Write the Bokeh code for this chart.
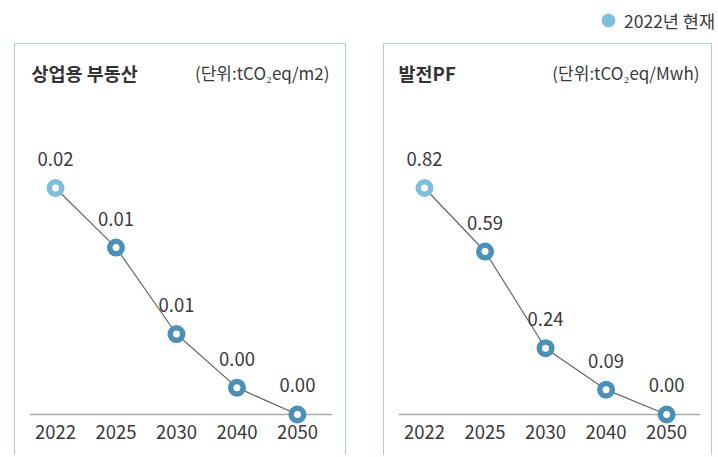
from bokeh.plotting import figure
from bokeh.models import Range1d, FixedTicker, Span, Legend, LegendItem, Spacer, ColumnDataSource
from bokeh.layouts import row, column
from bokeh.embed import file_html
from bokeh.resources import INLINE
from bokeh.core.properties import value

# ---------------- data ----------------
years = ["2022", "2025", "2030", "2040", "2050"]
current_year = "2022"
commercial_values = [0.0152, 0.0112, 0.0054, 0.0018, 0.0]
power_values = [0.82, 0.59, 0.24, 0.09, 0.0]
commercial_title = "상업용 부동산"
commercial_unit = "(단위:tCO₂eq/m2)"
power_title = "발전PF"
power_unit = "(단위:tCO₂eq/Mwh)"
legend_text = "2022년 현재"

# ---------------- style ----------------
FONT = "Noto Sans CJK KR"
LIGHT = "#7cc0e0"
DARK = "#4a90b8"
BORDER = "#a9cdf0"
TEXT = "#3a3a3a"


def make_panel(title, unit, vals, width, frame_w, x_end_pad, title_dx, unit_dx):
    vmax = max(vals)
    xs = list(range(len(years)))
    colors = [LIGHT if y == current_year else DARK for y in years]
    labels = [f"{v:.2f}" for v in vals]
    src = ColumnDataSource(dict(x=xs, y=vals, c=colors, t=labels))
    xr = Range1d(-0.43, len(years) - 1 + x_end_pad)
    yr = Range1d(-0.0442 * vmax, 1.6071 * vmax)
    p = figure(width=width, height=412, x_range=xr, y_range=yr,
               y_axis_location=None, toolbar_location=None, output_backend="svg",
               min_border_left=14, min_border_right=width - 14 - frame_w,
               min_border_top=6, min_border_bottom=32,
               outline_line_color=None, background_fill_color="white",
               border_fill_color="white",
               styles={"border-top": f"1px solid {BORDER}",
                       "border-left": f"1px solid {BORDER}",
                       "border-right": f"1px solid {BORDER}"})
    p.xgrid.visible = False
    p.ygrid.visible = False
    ax = p.xaxis[0]
    ax.ticker = FixedTicker(ticks=xs)
    ax.major_label_overrides = {i: y for i, y in zip(xs, years)}
    ax.axis_line_color = None
    ax.major_tick_line_color = None
    ax.minor_tick_line_color = None
    ax.major_tick_out = 0
    ax.major_label_standoff = 0
    ax.major_label_text_font = FONT
    ax.major_label_text_font_size = "18.5px"
    ax.major_label_text_color = TEXT

    p.add_layout(Span(location=0, dimension="width", line_color="#aaaaaa",
                      line_width=1.5, level="underlay"))
    p.line("x", "y", source=src, line_color="#666666", line_width=1.2)
    p.scatter("x", "y", source=src, size=12.5, fill_color="white",
              line_color="c", line_width=5.5)
    p.text("x", "y", text="t", source=src, y_offset=-29, text_align="center",
           text_baseline="middle", text_font=value(FONT), text_font_size="18.5px",
           text_color=TEXT)

    # panel title and unit, anchored to the top corners of the frame
    p.text(x=[xr.start], y=[yr.end], text=[title], x_offset=title_dx, y_offset=22,
           text_align="left", text_baseline="middle", text_font=value(FONT),
           text_font_size="18.5px", text_font_style="bold", text_color="#333333")
    p.text(x=[xr.end], y=[yr.end], text=[unit], x_offset=unit_dx, y_offset=22,
           text_align="right", text_baseline="middle", text_font=value(FONT),
           text_font_size="17px", text_color=TEXT)
    return p


left = make_panel(commercial_title, commercial_unit, commercial_values, 332, 303, 0.58, 2, -3)
right = make_panel(power_title, power_unit, power_values, 329, 302, 0.56, 0, -1)

top = figure(width=716, height=43, x_range=Range1d(0, 1), y_range=Range1d(0, 1),
             x_axis_location=None, y_axis_location=None, toolbar_location=None,
             output_backend="svg", min_border=0, outline_line_color=None)
top.xgrid.visible = False
top.ygrid.visible = False
dummy = top.scatter(x=[float("nan")], y=[float("nan")], fill_color=LIGHT, line_color=LIGHT)
leg = Legend(items=[LegendItem(label=legend_text, renderers=[dummy])],
             location=(592, 7), glyph_width=32, glyph_height=32, label_standoff=0,
             padding=0, margin=0, border_line_color=None, background_fill_alpha=0,
             label_text_font=FONT, label_text_font_size="17.5px", label_text_color=TEXT)
top.add_layout(leg, "center")

layout = column(top, row(Spacer(width=14), left, Spacer(width=37), right, spacing=0), spacing=0)
open("out.html", "w").write(file_html(layout, INLINE))
